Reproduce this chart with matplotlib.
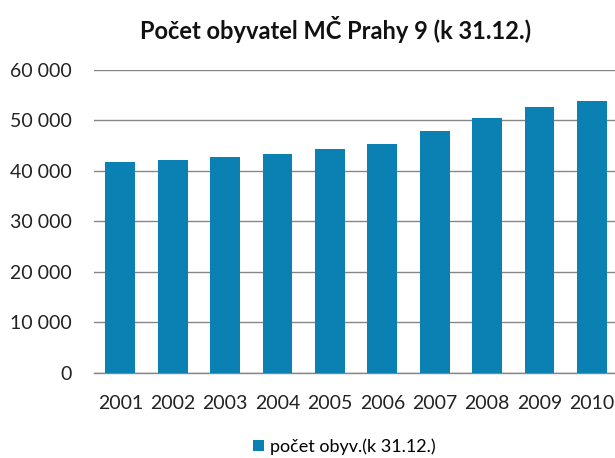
import matplotlib.pyplot as plt
import matplotlib.ticker as mticker

plt.rcParams['font.family'] = ['Lato', 'DejaVu Sans']

years = ['2001', '2002', '2003', '2004', '2005', '2006', '2007', '2008', '2009', '2010']
population = [41700, 42200, 42700, 43300, 44300, 45300, 47800, 50400, 52600, 53800]
series_name = 'počet obyv.(k 31.12.)'
title = 'Počet obyvatel MČ Prahy 9 (k 31.12.)'

bar_color = '#0b80b3'
grid_color = '#868686'

fig = plt.figure(figsize=(6.15, 4.58), dpi=100)
ax = fig.add_axes([0.153, 0.186, 0.852, 0.662])

ax.bar(range(len(years)), population, width=0.57, color=bar_color, label=series_name, zorder=3)

ax.set_xlim(-0.5, len(years) - 0.5)
ax.set_ylim(0, 60000)
ax.set_xticks(range(len(years)))
ax.set_xticklabels(years)
ax.yaxis.set_major_locator(mticker.MultipleLocator(10000))
ax.yaxis.set_major_formatter(mticker.FuncFormatter(lambda v, p: f'{int(v):,}'.replace(',', ' ')))

ax.grid(axis='y', color=grid_color, linewidth=1.0, zorder=0)
for s in ['top', 'right', 'left']:
    ax.spines[s].set_visible(False)
ax.spines['bottom'].set_color(grid_color)
ax.spines['bottom'].set_linewidth(1.0)
ax.tick_params(axis='both', length=0, labelsize=14, colors='#222222')
ax.tick_params(axis='x', pad=16)
ax.tick_params(axis='y', pad=16)

fig.text(0.545, 0.935, title, ha='center', va='center', fontsize=17, fontweight='bold', color='#111111')

fig.legend(loc='center', bbox_to_anchor=(0.56, 0.025), frameon=False, fontsize=13,
           handlelength=0.6, handleheight=0.6, handletextpad=0.3, borderpad=0)

fig.savefig('out.png', dpi=100)
